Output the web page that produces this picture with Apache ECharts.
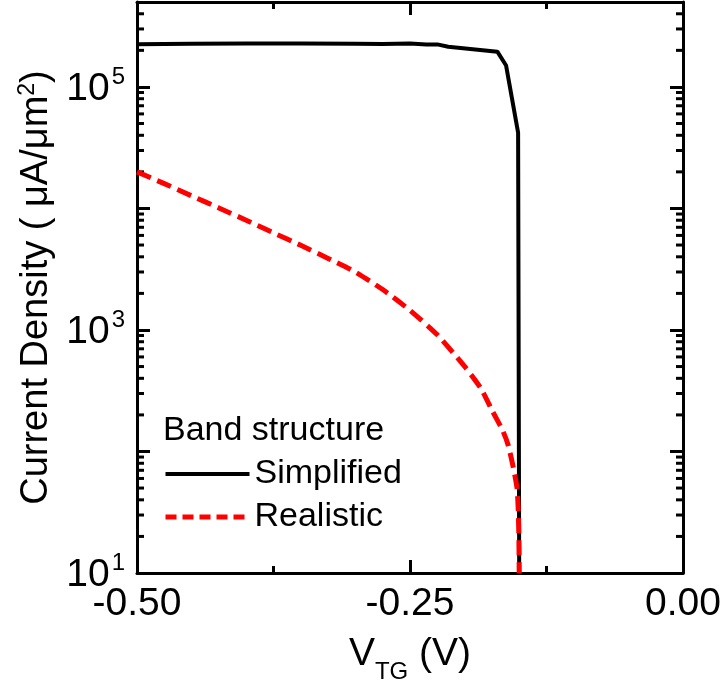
<!DOCTYPE html>
<html>
<head>
<meta charset="utf-8">
<script src="https://cdn.jsdelivr.net/npm/echarts@6/dist/echarts.min.js"></script>
<style>html,body{margin:0;padding:0;background:#fff}#c{width:728px;height:689px}</style>
</head>
<body>
<div id="c"></div>
<script>
// ---- data ----
const simplifiedX = [-0.50, -0.45, -0.40, -0.35, -0.30, -0.275, -0.25, -0.235, -0.225, -0.215, -0.17, -0.162, -0.151, -0.150];
const simplifiedY = [2.25e5, 2.27e5, 2.28e5, 2.28e5, 2.27e5, 2.26e5, 2.28e5, 2.23e5, 2.24e5, 2.14e5, 1.95e5, 1.5e5, 4.2e4, 10];
const realisticX = [-0.50, -0.475, -0.45, -0.425, -0.40, -0.375, -0.35, -0.325, -0.30, -0.275, -0.25, -0.225, -0.20, -0.185, -0.175, -0.165, -0.16, -0.155, -0.152, -0.151, -0.1503, -0.1500];
const realisticY = [2.0e4, 1.6e4, 1.27e4, 1.01e4, 8.0e3, 6.3e3, 4.97e3, 3.88e3, 3.0e3, 2.15e3, 1.45e3, 912, 501, 330, 219, 148, 112, 71, 50, 35, 20, 10];
const xTicks = [-0.50, -0.25, 0.00];
const yMajorLabels = [10, 1e3, 1e5];
const minorTickValues = [20,30,40,50,60,70,80,90, 200,300,400,500,600,700,800,900,
  2e3,3e3,4e3,5e3,6e3,7e3,8e3,9e3, 2e4,3e4,4e4,5e4,6e4,7e4,8e4,9e4, 2e5,3e5,4e5];
const seriesNames = ['Simplified', 'Realistic'];
const legendTitle = 'Band structure';

const FONT = 'Liberation Sans, Arial, sans-serif';
const chart = echarts.init(document.getElementById('c'), null, {renderer: 'canvas'});

function zip(xs, ys) { return xs.map((x, i) => [x, ys[i]]); }

const yLabelFmt = function (v) {
  const e = Math.round(Math.log10(v));
  if (Math.abs(Math.pow(10, e) - v) / v < 1e-6 && yMajorLabels.some(m => Math.abs(m - v) / v < 1e-6)) {
    return '{b|10}{s|' + e + '}';
  }
  return '';
};

const axisCommon = {
  axisLine: {show: true, onZero: false, lineStyle: {color: '#000', width: 3}},
  splitLine: {show: false},
};

const option = {
  animation: false,
  backgroundColor: '#fff',
  grid: {left: 137, right: 45, top: 2, bottom: 113, containLabel: false},
  xAxis: [
    Object.assign({}, axisCommon, {
      type: 'value', min: -0.5, max: 0, interval: 0.25, position: 'bottom',
      axisTick: {show: true, inside: true, length: 13, lineStyle: {color: '#000', width: 3}},
      minorTick: {show: true, splitNumber: 2, length: 7, lineStyle: {color: '#000', width: 3}},
      axisLabel: {show: true, margin: 12, fontFamily: FONT, fontSize: 39, color: '#000',
        formatter: v => v.toFixed(2)},
      name: '{a|V}{s|TG}{a| (V)}',
      nameLocation: 'middle', nameGap: 62,
      nameTextStyle: {rich: {
        a: {fontFamily: FONT, fontSize: 39, color: '#000', padding: [0, 0, 10, 0], verticalAlign: 'bottom'},
        s: {fontFamily: FONT, fontSize: 24, color: '#000', verticalAlign: 'bottom'}
      }}
    }),
    Object.assign({}, axisCommon, {
      type: 'value', min: -0.5, max: 0, interval: 0.25, position: 'top',
      axisTick: {show: true, inside: true, length: 13, lineStyle: {color: '#000', width: 3}},
      minorTick: {show: true, splitNumber: 2, length: 7, lineStyle: {color: '#000', width: 3}},
      axisLabel: {show: false}
    })
  ],
  yAxis: [
    Object.assign({}, axisCommon, {
      type: 'log', logBase: 10, min: 10, max: 5e5, position: 'left',
      axisTick: {show: true, inside: true, length: 13, lineStyle: {color: '#000', width: 3}},
      axisLabel: {show: true, margin: 12, formatter: yLabelFmt, rich: {
        b: {fontFamily: FONT, fontSize: 39, color: '#000', verticalAlign: 'bottom'},
        s: {fontFamily: FONT, fontSize: 24, color: '#000', padding: [0, 0, 20, 2], verticalAlign: 'bottom'}
      }},
      name: 'Current Density ( μA/μm{s|2})',
      nameLocation: 'middle', nameGap: 78, nameRotate: 90,
      nameTextStyle: {fontFamily: FONT, fontSize: 38, color: '#000', rich: {
        s: {fontFamily: FONT, fontSize: 23, color: '#000', padding: [0, 0, 18, 0], verticalAlign: 'bottom'}
      }}
    }),
    Object.assign({}, axisCommon, {
      type: 'log', logBase: 10, min: 10, max: 5e5, position: 'right',
      axisTick: {show: true, inside: true, length: 13, lineStyle: {color: '#000', width: 3}},
      axisLabel: {show: false}
    })
  ],
  legend: {
    show: true, orient: 'vertical', left: 158, top: 452,
    itemWidth: 84, itemHeight: 36, itemGap: 9,
    data: [
      {name: seriesNames[0], lineStyle: {width: 4, color: '#000'}},
      {name: seriesNames[1], lineStyle: {width: 5, color: '#ff0000', type: [11, 6]}}
    ],
    itemStyle: {opacity: 0},
    textStyle: {fontFamily: FONT, fontSize: 34, color: '#000', padding: [0, 0, 0, 0]},
    inactiveColor: '#000'
  },
  graphic: [{
    type: 'text', left: 163, top: 414,
    style: {text: legendTitle, font: '34px ' + FONT, fill: '#000'}
  }],
  series: [
    {
      name: seriesNames[0], type: 'line', data: zip(simplifiedX, simplifiedY),
      symbol: 'none', showSymbol: false, clip: true,
      lineStyle: {color: '#000', width: 4}, itemStyle: {color: '#000'}
    },
    {
      name: seriesNames[1], type: 'line', data: zip(realisticX, realisticY),
      symbol: 'none', showSymbol: false, clip: true, smooth: 0.2,
      lineStyle: {color: '#ff0000', width: 5, type: [15, 7]}, itemStyle: {color: '#ff0000'}
    },
    {
      type: 'custom', silent: true, clip: false,
      data: minorTickValues.map(v => [-0.5, v]),
      encode: {x: 0, y: 1},
      renderItem: function (params, api) {
        const p = api.coord([-0.5, api.value(1)]);
        const cs = params.coordSys;
        const st = {stroke: '#000', lineWidth: 3};
        return {type: 'group', children: [
          {type: 'line', shape: {x1: cs.x, y1: p[1], x2: cs.x + 7, y2: p[1]}, style: st},
          {type: 'line', shape: {x1: cs.x + cs.width - 7, y1: p[1], x2: cs.x + cs.width, y2: p[1]}, style: st}
        ]};
      }
    }
  ]
};
chart.setOption(option);
</script>
</body>
</html>
